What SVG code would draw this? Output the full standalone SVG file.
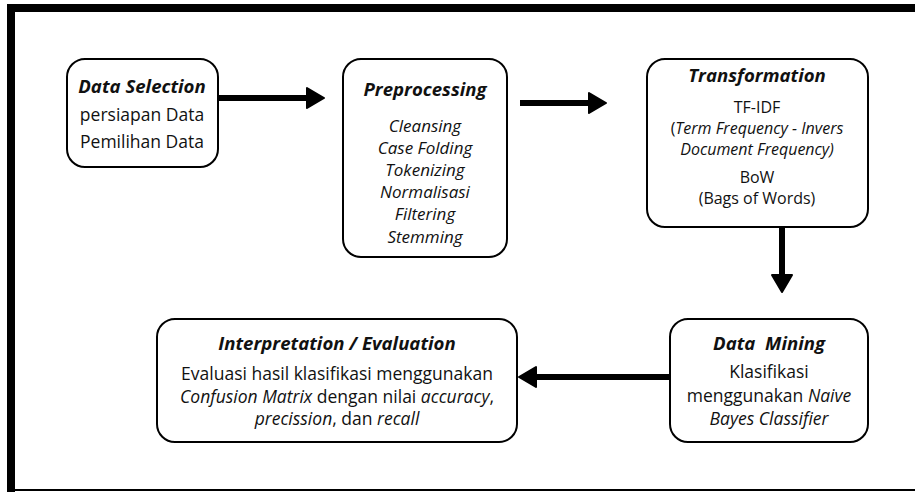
<svg xmlns="http://www.w3.org/2000/svg" width="915" height="492" viewBox="0 0 915 492">
<defs>
<style>
.box{fill:#fff;stroke:#000;stroke-width:2}
text{font-family:"Open Sans","Noto Sans","Liberation Sans",sans-serif;fill:#111;text-anchor:middle;font-size:17.5px}
.t{font-weight:bold;font-style:italic;font-size:18.6px}
.i{font-style:italic}
.p{font-style:italic;font-size:17px}
.s{font-size:16px}
.c{fill:none;stroke:#000;stroke-width:6}
</style>
<marker id="ah" viewBox="0 0 20 24" refX="1" refY="12" markerWidth="20" markerHeight="24" markerUnits="userSpaceOnUse" orient="auto">
<path d="M1,2 L18,12 L1,22 Z" fill="#000" stroke="#000" stroke-width="2" stroke-linejoin="round"/>
</marker>
</defs>
<rect width="915" height="492" fill="#fff"/>
<g id="frame">
<rect x="7" y="4" width="908" height="8" fill="#000"/>
<rect x="7" y="4" width="8" height="488" fill="#000"/>
<rect x="7" y="489" width="908" height="2" fill="#000"/>
</g>
<g id="connectors">
<path class="c" d="M218 98 H307" marker-end="url(#ah)"/>
<path class="c" d="M520 103 H589" marker-end="url(#ah)"/>
<path class="c" d="M782 227 V275" marker-end="url(#ah)"/>
<path class="c" d="M670 377 H536" marker-end="url(#ah)"/>
</g>
<g id="data-selection">
<rect class="box" x="67" y="59" width="151" height="108" rx="18"/>
<text class="t" x="142" y="93">Data Selection</text>
<text x="142" y="121">persiapan Data</text>
<text x="142" y="148">Pemilihan Data</text>
</g>
<g id="preprocessing">
<rect class="box" x="343" y="59" width="164" height="198" rx="18"/>
<text class="t" x="425" y="96">Preprocessing</text>
<text class="p" x="425" y="132">Cleansing</text>
<text class="p" x="425" y="154">Case Folding</text>
<text class="p" x="425" y="176">Tokenizing</text>
<text class="p" x="425" y="198">Normalisasi</text>
<text class="p" x="425" y="220">Filtering</text>
<text class="p" x="425" y="243">Stemming</text>
</g>
<g id="transformation">
<rect class="box" x="647" y="59" width="221" height="168" rx="18"/>
<text class="t" x="757" y="82">Transformation</text>
<text class="s" x="757" y="113">TF-IDF</text>
<text class="s" x="757" y="134">(<tspan font-style="italic">Term Frequency - Invers</tspan></text>
<text class="s" x="757" y="155"><tspan font-style="italic">Document Frequency)</tspan></text>
<text class="s" x="757" y="183">BoW</text>
<text class="s" x="757" y="204">(Bags of Words)</text>
</g>
<g id="data-mining">
<rect class="box" x="670" y="319" width="198" height="123" rx="18"/>
<text class="t" x="769" y="350" xml:space="preserve">Data  Mining</text>
<text x="769" y="378">Klasifikasi</text>
<text x="769" y="402">menggunakan <tspan font-style="italic">Naive</tspan></text>
<text class="i" x="769" y="425">Bayes Classifier</text>
</g>
<g id="interpretation">
<rect class="box" x="157" y="319" width="360" height="123" rx="18"/>
<text class="t" x="337" y="350">Interpretation / Evaluation</text>
<text x="337" y="380">Evaluasi hasil klasifikasi menggunakan</text>
<text x="337" y="403"><tspan font-style="italic">Confusion Matrix</tspan> dengan nilai <tspan font-style="italic">accuracy</tspan>,</text>
<text x="337" y="425"><tspan font-style="italic">precission</tspan>, dan <tspan font-style="italic">recall</tspan></text>
</g>
</svg>
